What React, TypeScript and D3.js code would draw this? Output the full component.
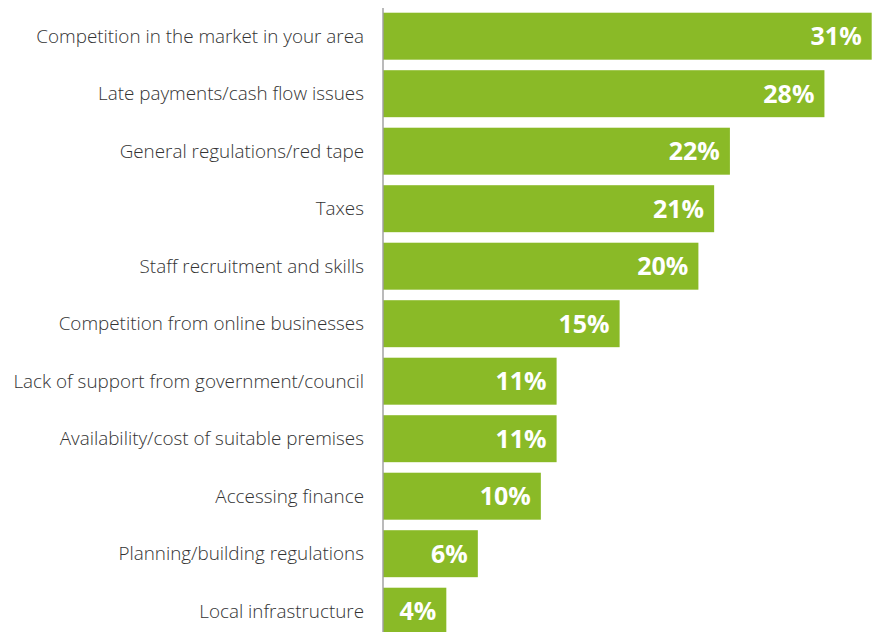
import React from "react";
import * as d3 from "d3";

const categories = [
  "Competition in the market in your area",
  "Late payments/cash flow issues",
  "General regulations/red tape",
  "Taxes",
  "Staff recruitment and skills",
  "Competition from online businesses",
  "Lack of support from government/council",
  "Availability/cost of suitable premises",
  "Accessing finance",
  "Planning/building regulations",
  "Local infrastructure",
];
const values = [31, 28, 22, 21, 20, 15, 11, 11, 10, 6, 4];

const W = 873;
const H = 632;

export default function App() {
  const x = d3.scaleLinear().domain([0, 31]).range([383.3, 871.7]);
  const y = d3
    .scaleBand<string>()
    .domain(categories)
    .range([7.45, 639.95])
    .paddingInner(0.183)
    .paddingOuter(0.0915);
  return (
    <svg
      width={W}
      height={H}
      style={{ position: "absolute", left: 0, top: 0, background: "#fff" }}
      fontFamily="'Open Sans', sans-serif"
    >
      {categories.map((c, i) => {
        const yy = y(c)!;
        const bw = y.bandwidth();
        return (
          <g key={c}>
            <rect x={x(0)} y={yy} width={x(values[i]) - x(0)} height={bw} fill="#8aba27" />
            <text
              x={364}
              y={yy + bw / 2}
              dy="0.35em"
              textAnchor="end"
              fontSize={18.85}
              fontWeight={300}
              fill="#333333"
            >
              {c}
            </text>
            <text
              x={x(values[i]) - 10}
              y={yy + bw / 2}
              dy="0.36em"
              textAnchor="end"
              fontSize={25}
              fontWeight="bold"
              fill="#ffffff"
            >
              {values[i] + "%"}
            </text>
          </g>
        );
      })}
      <line x1={383} x2={383} y1={8} y2={H} stroke="#8c8c8c" strokeWidth={1.2} />
    </svg>
  );
}
